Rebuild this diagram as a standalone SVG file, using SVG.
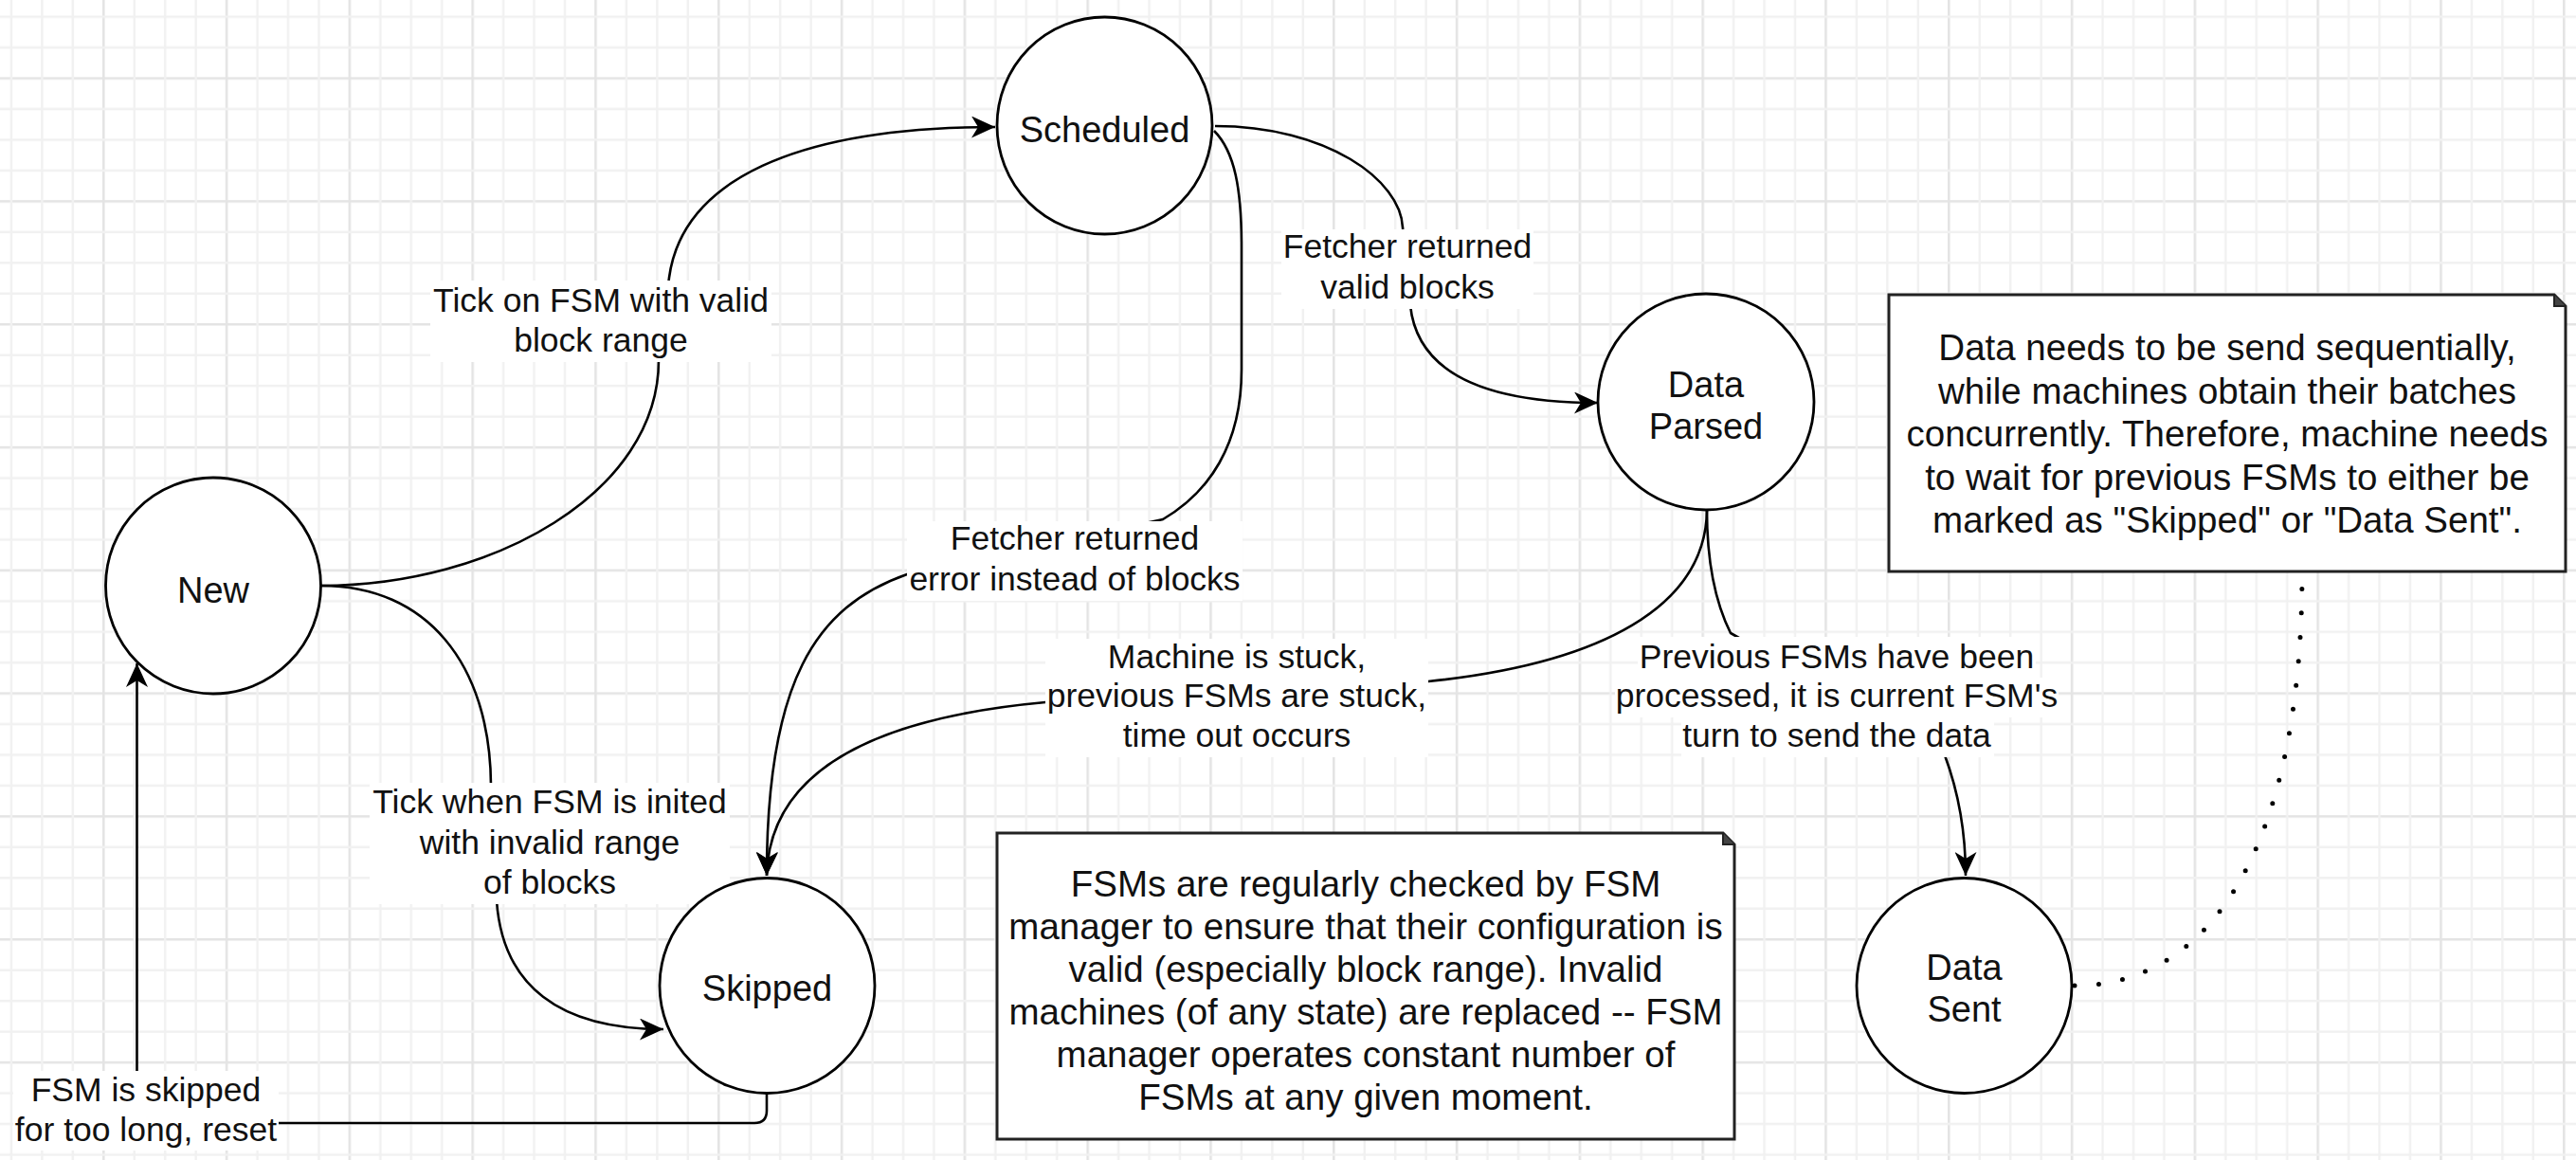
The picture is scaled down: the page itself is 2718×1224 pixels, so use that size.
<svg xmlns="http://www.w3.org/2000/svg" width="2718" height="1224" viewBox="0 0 2718 1224">
  <defs>
    <pattern id="grid" patternUnits="userSpaceOnUse" x="108" y="81.4" width="129.8" height="129.8">
      <path d="M1.3,0 V129.8 M0,1.3 H129.8" stroke="#e4e4e4" stroke-width="2.6" fill="none"/>
      <path d="M33.75,0 V129.8 M66.2,0 V129.8 M98.65,0 V129.8 M0,33.75 H129.8 M0,66.2 H129.8 M0,98.65 H129.8" stroke="#f1f1f1" stroke-width="2.4" fill="none"/>
    </pattern>
    <marker id="arrow" markerUnits="userSpaceOnUse" viewBox="0 0 25 23" refX="25" refY="11.5" markerWidth="25" markerHeight="23" orient="auto">
      <path d="M0,0 L25,11.5 L0,23 L7,11.5 Z" fill="#000"/>
    </marker>
    <style>
      .state { fill: #fff; stroke: #000; stroke-width: 2.8; }
      .note { fill: #fff; stroke: #222; stroke-width: 3; }
      .edge { fill: none; stroke: #000; stroke-width: 2.6; }
      .arr { marker-end: url(#arrow); }
      .dot { fill: none; stroke: #000; stroke-width: 5; stroke-linecap: round; stroke-dasharray: 0 25.5; }
      .lblbg { fill: #fff; stroke: none; }
      text { font-family: "Liberation Sans", Arial, Helvetica, sans-serif; fill: #111; text-anchor: middle; }
      .ntxt { font-size: 38px; }
      .ltxt { font-size: 35.5px; }
      .mtxt { font-size: 38.5px; }
    </style>
  </defs>

  <rect x="0" y="0" width="2718" height="1224" fill="#fff"/>
  <rect x="0" y="0" width="2718" height="1224" fill="url(#grid)"/>

  <g id="connectors">
    <!-- New -> Scheduled -->
    <path class="edge arr" d="M339,618 C520,618 695,520 695,380 L706,293 C720,190 840,134 1050,134"/>
    <!-- New -> Skipped -->
    <path class="edge arr" d="M339,618 C450,618 517,700 518,828 L524,950 C530,1040 590,1086 700,1086"/>
    <!-- Scheduled -> Data Parsed -->
    <path class="edge arr" d="M1282,133 C1400,133 1478,190 1480,240 L1488,322 C1495,390 1560,425 1686,425"/>
    <!-- Scheduled -> Skipped (error) -->
    <path class="edge arr" d="M1281,138 C1303,160 1310,200 1310,260 L1310,390 C1310,470 1275,520 1227,548 L957,606 C860,640 809,720 809,924"/>
    <!-- Data Parsed -> Skipped (stuck) -->
    <path class="edge arr" d="M1801,538 C1800,640 1690,700 1507,719 L1103,741 C950,755 812,800 809,924"/>
    <!-- Data Parsed -> Data Sent -->
    <path class="edge arr" d="M1801,538 C1801,600 1812,640 1826,668 L2052,797 C2068,840 2074,880 2074,924"/>
    <!-- Skipped -> New (reset) -->
    <path class="edge arr" d="M809,1153 L809,1172 Q809,1185 796,1185 L144.5,1185 L144.5,700"/>
    <!-- Data Sent ... note -->
    <path class="dot" d="M2189,1040 C2340,1040 2429,880 2429,603"/>

    <!-- edge labels -->
    <g id="lbl-tick-valid">
      <rect class="lblbg" x="454" y="296" width="360" height="86"/>
      <text class="ltxt" x="634" y="329">Tick on FSM with valid</text>
      <text class="ltxt" x="634" y="371">block range</text>
    </g>
    <g id="lbl-tick-invalid">
      <rect class="lblbg" x="390" y="826" width="380" height="128"/>
      <text class="ltxt" x="580" y="858">Tick when FSM is inited</text>
      <text class="ltxt" x="580" y="901">with invalid range</text>
      <text class="ltxt" x="580" y="943">of blocks</text>
    </g>
    <g id="lbl-valid-blocks">
      <rect class="lblbg" x="1352" y="242" width="266" height="84"/>
      <text class="ltxt" x="1485" y="272">Fetcher returned</text>
      <text class="ltxt" x="1485" y="315">valid blocks</text>
    </g>
    <g id="lbl-error">
      <rect class="lblbg" x="957" y="550" width="354" height="84"/>
      <text class="ltxt" x="1134" y="580">Fetcher returned</text>
      <text class="ltxt" x="1134" y="623">error instead of blocks</text>
    </g>
    <g id="lbl-stuck">
      <rect class="lblbg" x="1103" y="674" width="404" height="125"/>
      <text class="ltxt" x="1305" y="705">Machine is stuck,</text>
      <text class="ltxt" x="1305" y="746">previous FSMs are stuck,</text>
      <text class="ltxt" x="1305" y="788">time out occurs</text>
    </g>
    <g id="lbl-previous">
      <rect class="lblbg" x="1728" y="672" width="420" height="43"/>
      <rect class="lblbg" x="1704" y="715" width="468" height="42"/>
      <rect class="lblbg" x="1774" y="757" width="330" height="42"/>
      <text class="ltxt" x="1938" y="705">Previous FSMs have been</text>
      <text class="ltxt" x="1938" y="746">processed, it is current FSM's</text>
      <text class="ltxt" x="1938" y="788">turn to send the data</text>
    </g>
    <g id="lbl-reset">
      <rect class="lblbg" x="14" y="1130" width="280" height="84"/>
      <text class="ltxt" x="154" y="1162">FSM is skipped</text>
      <text class="ltxt" x="154" y="1204">for too long, reset</text>
    </g>
  </g>

  <g id="node-new">
    <ellipse class="state" cx="225" cy="618" rx="113.5" ry="114"/>
    <text class="ntxt" x="225" y="636">New</text>
  </g>
  <g id="node-scheduled">
    <ellipse class="state" cx="1165.5" cy="132.5" rx="113.5" ry="114.5"/>
    <text class="ntxt" x="1165.5" y="150">Scheduled</text>
  </g>
  <g id="node-data-parsed">
    <ellipse class="state" cx="1800" cy="424" rx="114" ry="114"/>
    <text class="ntxt" x="1800" y="419">Data</text>
    <text class="ntxt" x="1800" y="463">Parsed</text>
  </g>
  <g id="node-skipped">
    <ellipse class="state" cx="809.5" cy="1040" rx="113.5" ry="113.5"/>
    <text class="ntxt" x="809.5" y="1056">Skipped</text>
  </g>
  <g id="node-data-sent">
    <ellipse class="state" cx="2072.5" cy="1040" rx="113.5" ry="113.5"/>
    <text class="ntxt" x="2072.5" y="1034">Data</text>
    <text class="ntxt" x="2072.5" y="1078">Sent</text>
  </g>

  <g id="note-manager">
    <path class="note" d="M1052,879 H1818 L1830,891 V1202 H1052 Z"/>
    <path d="M1818,879 V891 H1830" fill="#444" stroke="#222" stroke-width="2"/>
    <text class="mtxt" x="1441" y="946">FSMs are regularly checked by FSM</text>
    <text class="mtxt" x="1441" y="991">manager to ensure that their configuration is</text>
    <text class="mtxt" x="1441" y="1036">valid (especially block range). Invalid</text>
    <text class="mtxt" x="1441" y="1081">machines (of any state) are replaced -- FSM</text>
    <text class="mtxt" x="1441" y="1126">manager operates constant number of</text>
    <text class="mtxt" x="1441" y="1171">FSMs at any given moment.</text>
  </g>

  <g id="note-sequential">
    <path class="note" d="M1993,311 H2695 L2707,323 V603 H1993 Z"/>
    <path d="M2695,311 V323 H2707" fill="#444" stroke="#222" stroke-width="2"/>
    <text class="mtxt" x="2350" y="380">Data needs to be send sequentially,</text>
    <text class="mtxt" x="2350" y="425.5">while machines obtain their batches</text>
    <text class="mtxt" x="2350" y="471">concurrently. Therefore, machine needs</text>
    <text class="mtxt" x="2350" y="516.5">to wait for previous FSMs to either be</text>
    <text class="mtxt" x="2350" y="562">marked as "Skipped" or "Data Sent".</text>
  </g>
</svg>
